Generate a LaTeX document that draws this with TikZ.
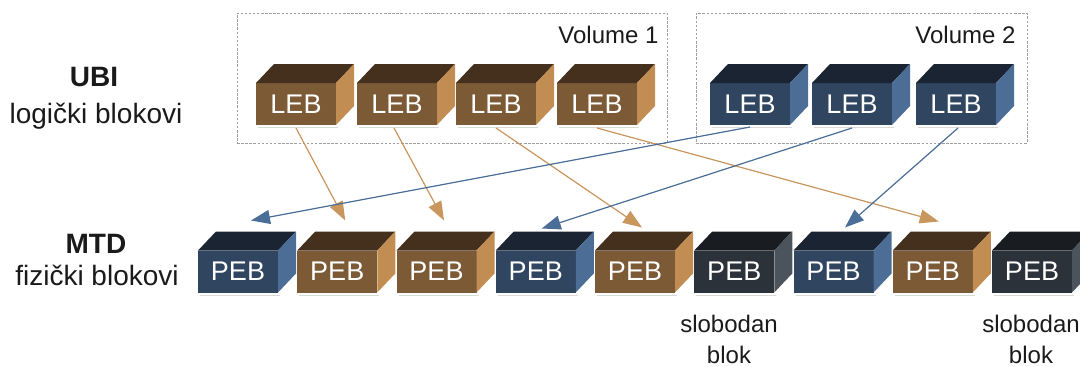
\documentclass[tikz,border=0pt]{standalone}
\usepackage{fontspec}
\setmainfont{Liberation Sans}
\usetikzlibrary{arrows.meta,calc}

% cube face colours
\definecolor{brownF}{HTML}{7C5A36}
\definecolor{brownT}{HTML}{44301C}
\definecolor{brownS}{HTML}{C28D52}
\definecolor{blueF}{HTML}{2F4560}
\definecolor{blueT}{HTML}{1A2433}
\definecolor{blueS}{HTML}{4C6D96}
\definecolor{darkF}{HTML}{2C3239}
\definecolor{darkT}{HTML}{191D21}
\definecolor{darkS}{HTML}{4B545D}
\definecolor{brownArrow}{HTML}{C9965E}
\definecolor{blueArrow}{HTML}{4B6E98}
\definecolor{ink}{HTML}{1A1A1A}

\tikzset{
  cubeface/.style={rectangle, inner sep=0pt, outer sep=0pt,
    minimum width=80pt, minimum height=42pt, text=white,
    font=\fontsize{27}{30}\selectfont},
  volbox/.style={draw=gray!75, dashed, dash pattern=on 2.5pt off 1.6pt,
    line width=0.9pt, inner sep=0pt, outer sep=0pt},
  vollabel/.style={anchor=base east, text=ink, font=\fontsize{24}{28}\selectfont},
  sidelabel/.style={anchor=base, text=ink, font=\fontsize{28}{32}\selectfont},
  freelabel/.style={anchor=base, text=ink, font=\fontsize{24}{28}\selectfont},
  maparrow/.style={line width=1.2pt, -{Triangle[length=19pt,width=14pt]}},
  brownmap/.style={maparrow, draw=brownArrow, fill=brownArrow},
  bluemap/.style={maparrow, draw=blueArrow, fill=blueArrow},
}

% a 3-D block: name, centre, colour family, text
\newcommand\blockcube[4]{%
  \fill[gray!30] ($(#2)+(-38,23)$) rectangle ($(#2)+(42,23.5)$);
  \node[cubeface, fill=#3F] (#1) at (#2) {#4};
  \fill[#3T] (#1.north west) -- ++(18,-19) -- ($(#1.north east)+(18,-19)$)
    -- (#1.north east) -- cycle;
  \fill[#3S] (#1.north east) -- ++(18,-19) -- ($(#1.south east)+(18,-19)$)
    -- (#1.south east) -- cycle;
}

\begin{document}
\begin{tikzpicture}[x=1pt, y=-1pt]
  \useasboundingbox (0,0) rectangle (1080,367);

  % layer labels
  \node[sidelabel] (ubi) at (94,86) {\bfseries UBI};
  \node[sidelabel] (ubisub) at (96,123) {logički blokovi};
  \node[sidelabel] (mtd) at (96,253) {\bfseries MTD};
  \node[sidelabel] (mtdsub) at (97,285) {fizički blokovi};

  % volumes
  \node[volbox, minimum width=430pt, minimum height=130pt] (vol1) at (452,78) {};
  \node[volbox, minimum width=331pt, minimum height=130pt] (vol2) at (861.5,78) {};
  \node[vollabel] (vol1lbl) at (662,43) {Volume 1};
  \node[vollabel] (vol2lbl) at (1019,43) {Volume 2};

  % logical erase blocks
  \blockcube{L1}{296,104}{brown}{LEB}
  \blockcube{L2}{397,104}{brown}{LEB}
  \blockcube{L3}{496,104}{brown}{LEB}
  \blockcube{L4}{597,104}{brown}{LEB}
  \blockcube{L5}{750,104}{blue}{LEB}
  \blockcube{L6}{852,104}{blue}{LEB}
  \blockcube{L7}{956,104}{blue}{LEB}

  % physical erase blocks
  \blockcube{P1}{238,271.5}{blue}{PEB}
  \blockcube{P2}{337.25,271.5}{brown}{PEB}
  \blockcube{P3}{436.5,271.5}{brown}{PEB}
  \blockcube{P4}{535.75,271.5}{blue}{PEB}
  \blockcube{P5}{635,271.5}{brown}{PEB}
  \blockcube{P6}{734.25,271.5}{dark}{PEB}
  \blockcube{P7}{833.5,271.5}{blue}{PEB}
  \blockcube{P8}{932.75,271.5}{brown}{PEB}
  \blockcube{P9}{1032,271.5}{dark}{PEB}

  % free blocks
  \node[freelabel] (free1a) at (729,332) {slobodan};
  \node[freelabel] (free1b) at (729,363) {blok};
  \node[freelabel] (free2a) at (1031,332) {slobodan};
  \node[freelabel] (free2b) at (1031,363) {blok};

  % mapping LEB -> PEB
  \draw[brownmap] ($(L1.south)+(0,3)$) -- ($(P2.north)+(8,-30)$);
  \draw[brownmap] ($(L2.south)+(-3,3)$) -- ($(P3.north)+(7.5,-30)$);
  \draw[brownmap] ($(L3.south)+(0,3)$) -- ($(P5.north)+(7,-23)$);
  \draw[brownmap] ($(L4.south)+(0,3)$) -- ($(P8.north)+(6,-29)$);
  \draw[bluemap] ($(L5.south)+(0,2)$) -- ($(P1.north)+(13,-30)$);
  \draw[bluemap] ($(L6.south)+(0,3)$) -- ($(P4.north)+(6,-22)$);
  \draw[bluemap] ($(L7.south)+(2,3)$) -- ($(P7.north)+(11.5,-23)$);
\end{tikzpicture}
\end{document}
